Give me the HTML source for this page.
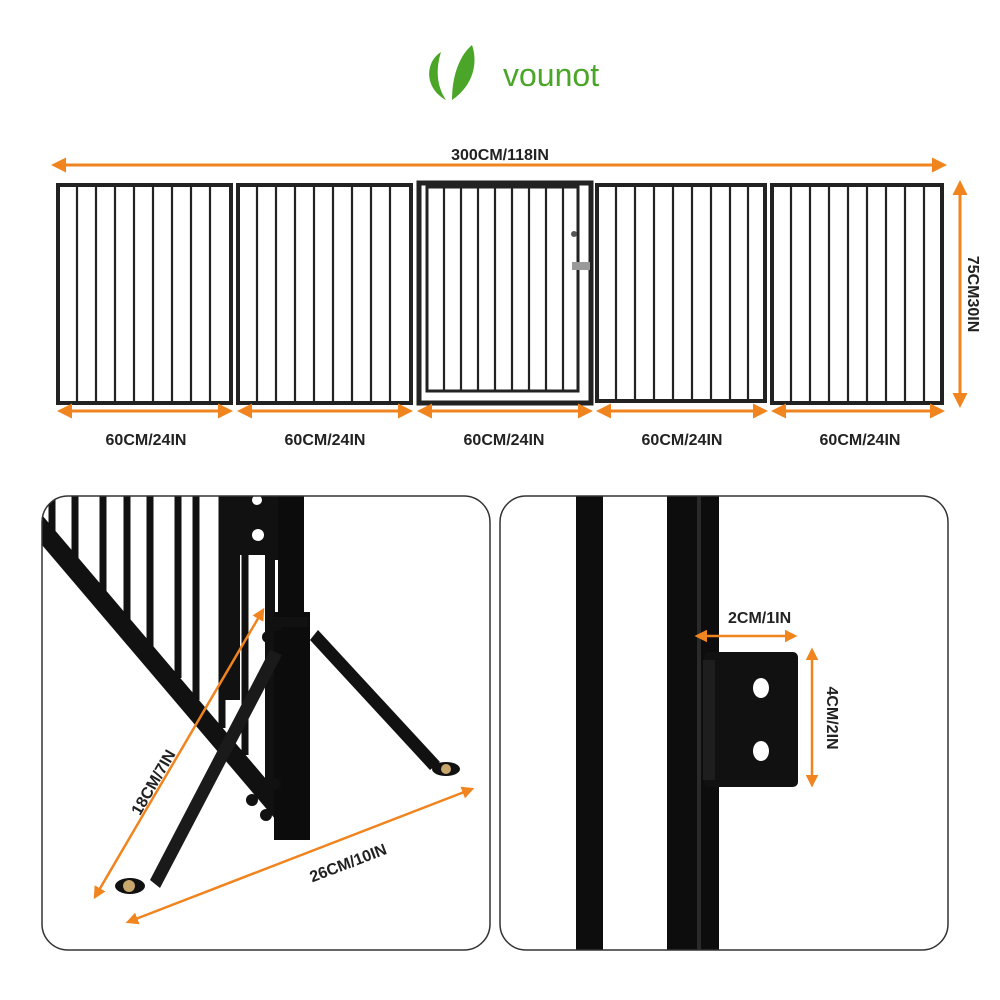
<!DOCTYPE html>
<html><head><meta charset="utf-8"><style>
html,body{margin:0;padding:0;background:#fff;}
svg{display:block;font-family:"Liberation Sans",sans-serif;}
</style></head><body>
<svg width="1000" height="1000" viewBox="0 0 1000 1000" xmlns="http://www.w3.org/2000/svg">
<defs>
<marker id="ah" viewBox="0 0 10 10" refX="8" refY="5" markerWidth="5" markerHeight="5" orient="auto-start-reverse"><path d="M0,0 L10,5 L0,10 z" fill="#f0841e"/></marker>
<clipPath id="cl"><rect x="42" y="496" width="448" height="454" rx="26"/></clipPath>
<clipPath id="cr"><rect x="500" y="496" width="448" height="454" rx="26"/></clipPath>
</defs>
<rect width="1000" height="1000" fill="#fff"/>
<!-- logo -->
<path d="M441,52 C425,62 424,88 446,100 C436,85 436,68 441,52z" fill="#4aa528"/>
<path d="M452,100 C452,75 460,55 472,45 C478,62 474,85 452,100z" fill="#4aa528"/>
<text x="503" y="86" font-size="32" fill="#4aa528">vounot</text>
<!-- top dims -->
<line x1="54" y1="165" x2="944" y2="165" stroke="#f0841e" stroke-width="3" marker-start="url(#ah)" marker-end="url(#ah)"/>
<text x="500" y="160" font-size="16" font-weight="bold" text-anchor="middle" fill="#222">300CM/118IN</text>
<line x1="960" y1="183" x2="960" y2="405" stroke="#f0841e" stroke-width="3" marker-start="url(#ah)" marker-end="url(#ah)"/>
<text transform="translate(968,294) rotate(90)" font-size="16" font-weight="bold" text-anchor="middle" fill="#222">75CM30IN</text>
<!-- panels -->
<g fill="none" stroke="#222">
<rect x="58" y="185" width="173" height="218" stroke-width="4"/>
<rect x="238" y="185" width="173" height="218" stroke-width="4"/>
<rect x="597" y="185" width="168" height="216" stroke-width="4"/>
<rect x="772" y="185" width="170" height="218" stroke-width="4"/>
<rect x="419" y="183" width="172" height="220" stroke-width="5"/>
<rect x="427" y="187" width="151" height="204" stroke-width="3"/>
</g>
<g stroke="#222" stroke-width="2.2">
<path d="M77,185V403 M96,185V403 M115,185V403 M134,185V403 M153,185V403 M172,185V403 M191,185V403 M210,185V403"/>
<path d="M257,185V403 M276,185V403 M295,185V403 M314,185V403 M333,185V403 M352,185V403 M371,185V403 M390,185V403"/>
<path d="M444,187V391 M461,187V391 M478,187V391 M495,187V391 M512,187V391 M529,187V391 M546,187V391 M563,187V391"/>
<path d="M616,185V401 M635,185V401 M654,185V401 M673,185V401 M692,185V401 M711,185V401 M730,185V401 M748,185V401"/>
<path d="M791,185V403 M810,185V403 M829,185V403 M848,185V403 M867,185V403 M886,185V403 M905,185V403 M924,185V403"/>
</g>
<rect x="572" y="262" width="18" height="8" fill="#999"/>
<circle cx="574" cy="234" r="3" fill="#555"/>
<!-- bottom arrows -->
<g stroke="#f0841e" stroke-width="3" marker-start="url(#ah)" marker-end="url(#ah)">
<line x1="60" y1="411" x2="230" y2="411"/><line x1="240" y1="411" x2="410" y2="411"/>
<line x1="420" y1="411" x2="590" y2="411"/><line x1="599" y1="411" x2="765" y2="411"/>
<line x1="774" y1="411" x2="942" y2="411"/>
</g>
<g font-size="16" font-weight="bold" fill="#222" text-anchor="middle">
<text x="146" y="445">60CM/24IN</text><text x="325" y="445">60CM/24IN</text>
<text x="504" y="445">60CM/24IN</text><text x="682" y="445">60CM/24IN</text>
<text x="860" y="445">60CM/24IN</text>
</g>
<!-- left detail -->
<g clip-path="url(#cl)">
<g stroke="#111" stroke-width="7">
<path d="M52,496V540 M75,496V565 M103,496V595 M127,496V622 M150,496V648 M178,496V678"/>
<path d="M196,496V700 M222,496V728 M245,496V755"/>
</g>
<path d="M42,515 L42,545 L293,840 L305,825z" fill="#111"/>
<path d="M225,496 H300 V560 H275 V800 H265 V555 H240 V700 H225z" fill="#111"/>
<circle cx="257" cy="500" r="5" fill="#fff"/><circle cx="258" cy="535" r="6" fill="#fff"/>
<rect x="278" y="496" width="26" height="330" fill="#0c0c0c"/>
<rect x="274" y="612" width="36" height="228" fill="#0c0c0c"/>
<rect x="270" y="617" width="38" height="10" fill="#111"/>
<path d="M310,640 L430,770 L440,762 L318,630z" fill="#111"/>
<ellipse cx="446" cy="769" rx="14" ry="7" fill="#111"/><circle cx="446" cy="769" r="5" fill="#c9a66b"/>
<path d="M282,655 L270,650 L150,880 L160,888z" fill="#1a1a1a"/>
<ellipse cx="130" cy="886" rx="15" ry="8" fill="#111"/><circle cx="129" cy="886" r="6" fill="#c9a66b"/>
<circle cx="268" cy="637" r="6" fill="#111"/><circle cx="277" cy="625" r="6" fill="#111"/>
<circle cx="252" cy="800" r="6" fill="#111"/><circle cx="266" cy="815" r="6" fill="#111"/><circle cx="275" cy="784" r="6" fill="#111"/>
</g>
<rect x="42" y="496" width="448" height="454" rx="26" fill="none" stroke="#333" stroke-width="1.5"/>
<line x1="263" y1="610" x2="95" y2="897" stroke="#f0841e" stroke-width="2.5" marker-start="url(#ah)" marker-end="url(#ah)"/>
<text transform="translate(158,785) rotate(-60)" font-size="16" font-weight="bold" fill="#222" text-anchor="middle">18CM/7IN</text>
<line x1="472" y1="789" x2="128" y2="922" stroke="#f0841e" stroke-width="2.5" marker-start="url(#ah)" marker-end="url(#ah)"/>
<text transform="translate(350,868) rotate(-21)" font-size="16" font-weight="bold" fill="#222" text-anchor="middle">26CM/10IN</text>
<!-- right detail -->
<g clip-path="url(#cr)">
<rect x="576" y="496" width="27" height="454" fill="#0d0d0d"/>
<rect x="667" y="496" width="52" height="454" fill="#0d0d0d"/>
<rect x="697" y="496" width="4" height="454" fill="#2a2a2a"/>
<rect x="704" y="652" width="94" height="135" rx="5" fill="#111"/>
<rect x="703" y="660" width="12" height="120" fill="#1e1e1e"/>
<ellipse cx="761" cy="688" rx="8" ry="10" fill="#fff"/>
<ellipse cx="761" cy="751" rx="8" ry="10" fill="#fff"/>
</g>
<rect x="500" y="496" width="448" height="454" rx="26" fill="none" stroke="#333" stroke-width="1.5"/>
<line x1="697" y1="636" x2="795" y2="636" stroke="#f0841e" stroke-width="2.5" marker-start="url(#ah)" marker-end="url(#ah)"/>
<text x="728" y="623" font-size="16" font-weight="bold" fill="#222">2CM/1IN</text>
<line x1="812" y1="650" x2="812" y2="785" stroke="#f0841e" stroke-width="2.5" marker-start="url(#ah)" marker-end="url(#ah)"/>
<text transform="translate(827,718) rotate(90)" font-size="16" font-weight="bold" fill="#222" text-anchor="middle">4CM/2IN</text>
</svg>
</body></html>
